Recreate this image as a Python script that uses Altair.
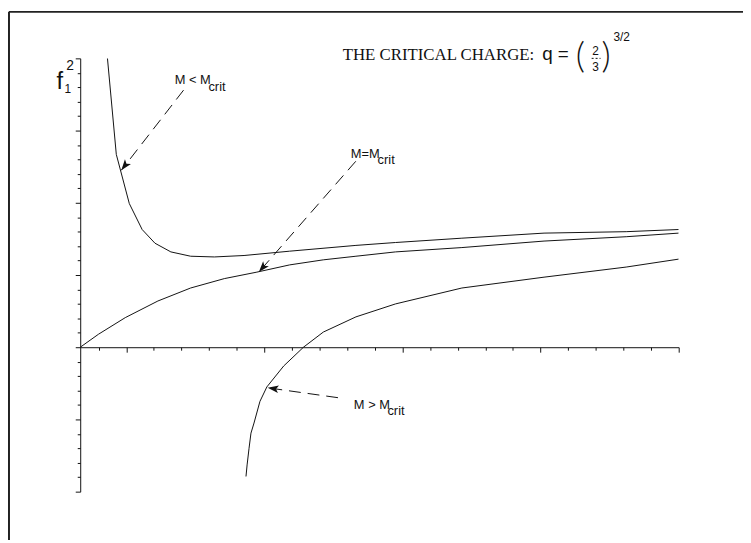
import math
import pandas as pd
import altair as alt

# ---------------- data ----------------
curve_names = ["M < M_crit", "M = M_crit", "M > M_crit"]

a_x = [0.864, 0.928, 1.022, 1.115, 1.208, 1.323, 1.466, 1.638, 1.853, 2.183, 2.663, 2.950, 3.430, 4.025, 4.620, 5.0]
a_y = [4.0, 2.67, 1.99, 1.63, 1.44, 1.32, 1.26, 1.25, 1.27, 1.33, 1.41, 1.45, 1.51, 1.58, 1.60, 1.63]

b_x = [0.667, 0.799, 0.993, 1.229, 1.466, 1.710, 1.946, 2.183, 2.427, 2.663, 2.950, 3.430, 4.025, 4.620, 5.0]
b_y = [0.0, 0.18, 0.41, 0.64, 0.82, 0.95, 1.04, 1.14, 1.21, 1.26, 1.32, 1.38, 1.47, 1.53, 1.58]

c_x = [1.867, 1.875, 1.889, 1.903, 1.925, 1.968, 2.018, 2.140, 2.283, 2.427, 2.663, 2.950, 3.430, 4.025, 4.620, 5.0]
c_y = [-1.79, -1.63, -1.40, -1.19, -1.05, -0.75, -0.55, -0.26, 0.0, 0.21, 0.42, 0.60, 0.82, 0.97, 1.11, 1.22]

# annotation arrows (data coordinates): tail -> tip
arrow_tail_x = [1.415, 2.662, 2.533]
arrow_tail_y = [3.56, 2.575, -0.699]
arrow_tip_x = [0.964, 1.960, 2.024]
arrow_tip_y = [2.45, 1.041, -0.562]

# annotation labels
label_main = ["M < M", "M=M", "M > M"]
label_main_x = [1.351, 2.626, 2.648]
label_main_y = [3.644, 2.616, -0.849]
label_sub = ["crit", "crit", "crit"]
label_sub_x = [1.595, 2.820, 2.891]
label_sub_y = [3.548, 2.534, -0.945]

# axis ticks (no labels in the reference)
x_ticks = [round(0.8 + 0.2 * i, 1) for i in range(22)]
y_ticks = [round(-2.0 + 0.2 * i, 1) for i in range(31)]

# ---------------- layout ----------------
XMIN, XMAX = 2 / 3, 5.0
YMIN, YMAX = -2.0, 4.0
W, H = 605, 438
KX = W / (XMAX - XMIN)
KY = H / (YMAX - YMIN)
INK = "#111111"
SANS = "Liberation Sans Narrow, Arial Narrow, Liberation Sans, Arial"

curves = pd.concat([
    pd.DataFrame({"x": a_x, "y": a_y, "curve": curve_names[0]}),
    pd.DataFrame({"x": b_x, "y": b_y, "curve": curve_names[1]}),
    pd.DataFrame({"x": c_x, "y": c_y, "curve": curve_names[2]}),
], ignore_index=True)

# arrow heads: centre pulled back from the tip, rotated along the arrow
R = 5.5
hx, hy, ang = [], [], []
for tx, ty, px, py in zip(arrow_tail_x, arrow_tail_y, arrow_tip_x, arrow_tip_y):
    dxp = (px - tx) * KX
    dyp = -(py - ty) * KY
    L = math.hypot(dxp, dyp)
    ux, uy = dxp / L, dyp / L
    hx.append(px - R * ux / KX)
    hy.append(py + R * uy / KY)
    ang.append(math.degrees(math.atan2(ux, -uy)) % 360)

arrows = pd.DataFrame({"x": arrow_tail_x, "y": arrow_tail_y,
                       "x2": arrow_tip_x, "y2": arrow_tip_y,
                       "hx": hx, "hy": hy, "angle": ang})
labels = pd.DataFrame({"t": label_main, "x": label_main_x, "y": label_main_y,
                       "s": label_sub, "sx": label_sub_x, "sy": label_sub_y})

major = {"condition": {"test": "abs(datum.value - round(datum.value)) < 0.001", "value": 5}, "value": 3}

xs = alt.Scale(domain=[XMIN, XMAX], nice=False, zero=False)
ys = alt.Scale(domain=[YMIN, YMAX], nice=False, zero=False)

x_enc = alt.X("x:Q", scale=xs, axis=alt.Axis(
    values=x_ticks, tickCount=200, labels=False, title=None, grid=False, offset=-(0 - YMIN) * KY,
    domainColor=INK, tickColor=INK, domainWidth=1, tickWidth=1, tickSize=major))
y_enc = alt.Y("y:Q", scale=ys, axis=alt.Axis(
    values=y_ticks, tickCount=200, labels=False, title=None, grid=False,
    domainColor=INK, tickColor=INK, domainWidth=1, tickWidth=1, tickSize=major))

lines = alt.Chart(curves).mark_line(color=INK, strokeWidth=1, clip=True).encode(
    x=x_enc, y=y_enc, detail="curve:N")

dashes = alt.Chart(arrows).mark_rule(color=INK, strokeWidth=1, strokeDash=[12, 7]).encode(
    x="x:Q", y="y:Q", x2="x2:Q", y2="y2:Q")

heads = alt.Chart(arrows).mark_point(
    shape="M0,-1L0.7,1L0,0.55L-0.7,1Z", filled=True, color=INK, opacity=1, size=121
).encode(x="hx:Q", y="hy:Q", angle=alt.Angle("angle:Q", scale=None))

main_txt = alt.Chart(labels).mark_text(
    align="left", baseline="alphabetic", font=SANS, fontSize=13, color=INK
).encode(x="x:Q", y="y:Q", text="t:N")
sub_txt = alt.Chart(labels).mark_text(
    align="left", baseline="alphabetic", font=SANS, fontSize=13, color=INK
).encode(x="sx:Q", y="sy:Q", text="s:N")

# ---- decorations positioned in pixels (view coordinates) ----
def T(text, x, y, size, font=SANS, align="left", weight="normal"):
    return alt.Chart(pd.DataFrame({"t": [text]})).mark_text(
        align=align, baseline="alphabetic", font=font, fontSize=size, color=INK,
        fontWeight=weight
    ).encode(x=alt.value(x), y=alt.value(y), text="t:N")

THIN = "Lato, Liberation Sans, Arial"
title = T("THE CRITICAL CHARGE:", 459, 2, 17, font="Liberation Serif, Times New Roman, serif", align="right")
q_eq = T("q =", 467, 2, 19, font="Liberation Sans, Arial")
lpar = T("(", 501, 10, 36, font=THIN, weight=300)
two = T("2", 521, -3, 12, align="center")
three = T("3", 521, 13, 12, align="center")
rpar = T(")", 527, 10, 36, font=THIN, weight=300)
expo = T("3/2", 539, -18, 12)
fbar = alt.Chart(pd.DataFrame({"k": [0]})).mark_rule(color=INK, strokeWidth=1, strokeDash=[2, 2]).encode(
    x=alt.value(517), x2=alt.value(526), y=alt.value(0))

f_lab = T("f", -24, 31, 24)
f_sup = T("2", -14, 12, 14)
f_sub = T("1", -16, 35, 12)

# outer frame (top and left edges)
frame_top = alt.Chart(pd.DataFrame({"k": [0]})).mark_rule(color="#222222", strokeWidth=2).encode(
    x=alt.value(-72), x2=alt.value(670), y=alt.value(-47))
frame_left = alt.Chart(pd.DataFrame({"k": [0]})).mark_rule(color="#222222", strokeWidth=2).encode(
    x=alt.value(-72), y=alt.value(-47), y2=alt.value(487))

chart = alt.layer(
    lines, dashes, heads, main_txt, sub_txt,
    title, q_eq, lpar, two, three, rpar, expo, fbar,
    f_lab, f_sup, f_sub, frame_top, frame_left
).properties(
    width=W, height=H,
    padding={"left": 73, "top": 48, "right": 65, "bottom": 49},
    autosize=alt.AutoSizeParams(type="none"),
    background="white",
).configure_view(stroke=None)

chart.save("out.html", embed_options={"renderer": "svg", "actions": False})
